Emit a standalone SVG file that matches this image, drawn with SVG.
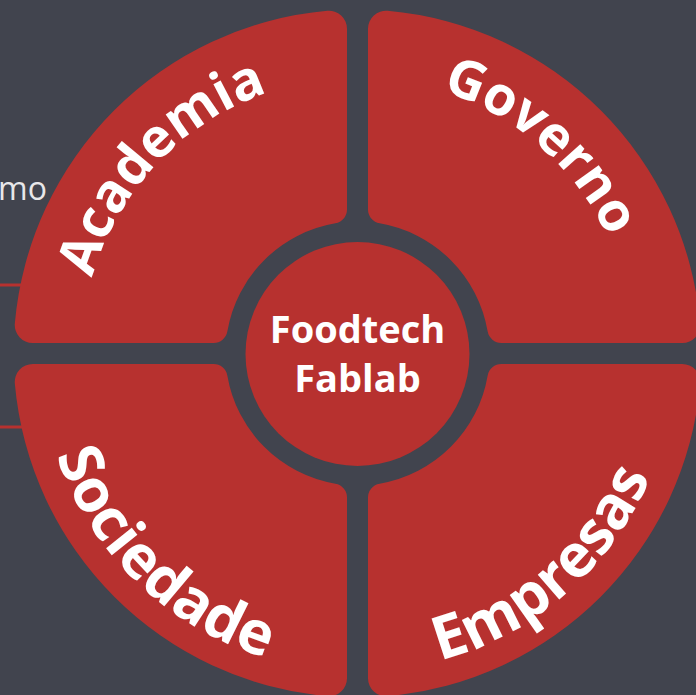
<svg xmlns="http://www.w3.org/2000/svg" xmlns:xlink="http://www.w3.org/1999/xlink" width="696" height="695" viewBox="0 0 696 695">
<style>
.bg{fill:#41444e}
.q{fill:#b7312f}
.lbl{fill:#ffffff;font-family:"Open Sans","DejaVu Sans",sans-serif;font-weight:700;font-size:54px}
.lblb{fill:#ffffff;font-family:"Open Sans","DejaVu Sans",sans-serif;font-weight:700;font-size:60px}
.ctr{fill:#ffffff;font-family:"Open Sans","DejaVu Sans",sans-serif;font-weight:700;font-size:38px;text-anchor:middle}
.side{fill:#e8e8ea;font-family:"Open Sans","DejaVu Sans",sans-serif;font-size:32px}
.ln{stroke:#b7312f;stroke-width:3}
</style>
<defs>
<path id="qp" d="M10.5,-143.93 L10.5,-324.75 A18,18 0 0 1 30.07,-342.68 A344,344 0 0 1 342.68,-30.07 A18,18 0 0 1 324.75,-10.5 L143.93,-10.5 A14,14 0 0 1 130.13,-22.15 A132,132 0 0 0 22.15,-130.13 A14,14 0 0 1 10.5,-143.93 Z"/>
<path id="arcTop" d="M81.5,353.5 A276,276 0 0 1 633.5,353.5"/>
<path id="arcBot" d="M39.5,353.5 A318,318 0 0 0 675.5,353.5"/>
</defs>
<rect class="bg" x="0" y="0" width="696" height="695"/>
<g id="side">
<text class="side" x="-2" y="200">mo</text>
</g>
<g id="connectors">
<line class="ln" x1="0" y1="285" x2="30" y2="285"/>
<line class="ln" x1="0" y1="427" x2="30" y2="427"/>
</g>
<g id="academia">
<use class="q" xlink:href="#qp" transform="translate(357.5,353.5) scale(-1,1)"/>
<text class="lbl" text-anchor="middle"><textPath xlink:href="#arcTop" startOffset="209.5">Academia</textPath></text>
</g>
<g id="governo">
<use class="q" xlink:href="#qp" transform="translate(357.5,353.5)"/>
<text class="lbl" text-anchor="middle"><textPath xlink:href="#arcTop" startOffset="633">Governo</textPath></text>
</g>
<g id="sociedade">
<use class="q" xlink:href="#qp" transform="translate(357.5,353.5) scale(-1,-1)"/>
<text class="lblb" text-anchor="middle"><textPath xlink:href="#arcBot" startOffset="255">Sociedade</textPath></text>
</g>
<g id="empresas">
<use class="q" xlink:href="#qp" transform="translate(357.5,353.5) scale(1,-1)"/>
<text class="lblb" text-anchor="middle"><textPath xlink:href="#arcBot" startOffset="727">Empresas</textPath></text>
</g>
<g id="foodtech">
<circle class="q" cx="357.5" cy="354" r="112"/>
<text class="ctr" x="357.5" y="343">Foodtech</text>
<text class="ctr" x="357.5" y="392">Fablab</text>
</g>
</svg>
